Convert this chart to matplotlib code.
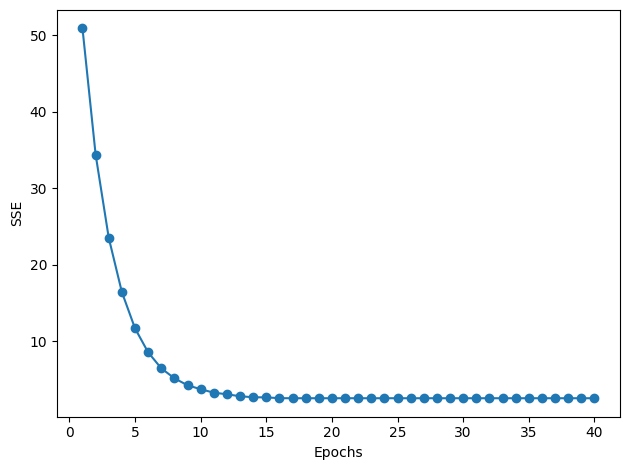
import matplotlib
matplotlib.use('Agg')
import matplotlib.pyplot as plt

# SSE per epoch
epochs = list(range(1, 41))
sse = [50.9, 34.4, 23.5, 16.4, 11.66, 8.52, 6.43, 5.12, 4.21, 3.69,
       3.24, 3.03, 2.77, 2.64, 2.62, 2.52, 2.51, 2.51, 2.51, 2.51,
       2.51, 2.51, 2.51, 2.51, 2.51, 2.51, 2.51, 2.51, 2.51, 2.51,
       2.51, 2.51, 2.51, 2.51, 2.51, 2.51, 2.51, 2.51, 2.51, 2.51]

fig, ax = plt.subplots(figsize=(6.4, 4.8), dpi=100)
ax.plot(epochs, sse, marker='o')
ax.set_xlabel('Epochs')
ax.set_ylabel('SSE')

plt.tight_layout()
plt.savefig('out.png', dpi=100, bbox_inches='tight')
plt.close()
